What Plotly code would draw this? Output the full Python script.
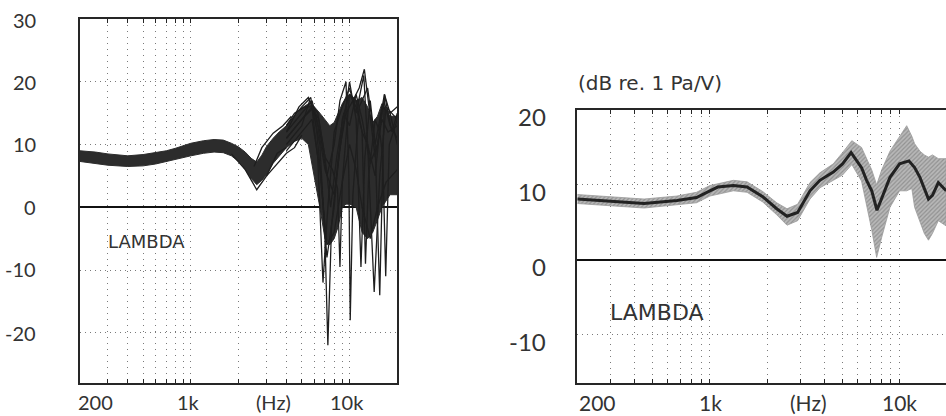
import math
import plotly.graph_objects as go

W, H = 946, 416

# ---------------- data: left panel (individual responses) ----------------
left_band_f = [200, 250, 300, 400, 500, 600, 700, 800, 1000, 1200, 1400, 1600, 1800, 2000,
               2200, 2400, 2600, 2800, 3000, 3300, 3600, 4000, 4500, 5000, 5500, 6000, 6500,
               7000, 7500, 8000, 8500, 9000, 9500, 10000, 11000, 12000, 13000, 14000, 15000,
               16000, 17000, 18000, 20000]
left_band_upper = [9.0, 8.8, 8.5, 8.2, 8.4, 8.7, 9.0, 9.4, 10.2, 10.6, 10.8, 10.7, 10.2, 9.6,
                   8.8, 7.8, 7.2, 8.3, 9.7, 11.0, 12.0, 13.0, 14.5, 15.8, 16.5, 16.0, 15.0,
                   14.0, 13.0, 13.5, 15.0, 16.5, 17.5, 18.0, 17.0, 17.5, 16.0, 13.5, 14.5,
                   16.5, 15.5, 14.5, 14.5]
left_band_lower = [7.3, 7.0, 6.7, 6.5, 6.6, 6.9, 7.2, 7.6, 8.2, 8.6, 8.8, 8.7, 8.2, 7.3,
                   6.0, 4.6, 3.6, 4.3, 5.2, 7.0, 8.2, 9.5, 10.5, 11.0, 10.0, 5.0, 0.0,
                   -5.0, -6.0, -5.0, -3.0, 0.0, 0.5, 0.5, 0.0, -4.0, -5.0, -4.0, -2.0,
                   0.0, 1.0, 2.0, 2.0]

left_curves_f = [
    [4000, 5000, 5800, 6500, 7000, 7300, 7700, 8500, 9500, 10500, 11500, 12400, 13400, 14500, 16000, 17500, 20000],
    [4000, 5000, 5800, 6500, 7200, 8000, 8700, 9500, 9900, 10100, 10500, 11500, 13000, 14500, 16600, 18500, 20000],
    [4000, 5000, 5600, 6300, 7000, 7800, 8400, 8700, 9000, 10000, 11000, 12000, 13000, 14300, 15500, 17000, 20000],
    [4000, 4800, 5500, 6200, 7000, 8000, 9000, 10000, 11000, 11800, 12500, 13500, 14500, 15500, 16600, 18000, 20000],
    [4000, 5000, 6000, 6600, 7200, 8000, 9000, 10000, 11000, 12000, 12600, 13200, 14500, 15500, 16200, 16900, 17800, 20000],
    [4000, 5000, 5800, 6500, 7200, 8000, 9000, 10000, 11000, 12000, 13500, 15000, 17000, 20000],
    [4000, 5000, 5700, 6300, 6800, 7300, 8000, 9000, 10000, 11000, 12300, 13000, 14500, 16000, 18000, 20000],
    [4000, 4500, 5200, 5800, 6400, 7000, 7600, 8300, 9200, 10000, 11000, 12000, 13500, 15000, 16500, 18000, 20000],
    [1800, 2200, 2600, 3000, 3500, 4000],
    [2500, 2800, 3300, 3800, 4300],
    [3000, 3500, 4000, 4500, 5000],
]
left_curves_db = [
    [11, 14, 16, 10, -5, -22, -3, 8, 15, 17, 19, 22, 15, 8, 14, 12, 13],
    [12, 15, 17, 12, 5, 10, 17, 20, 5, -18, 2, 16, 19, 10, 18, 12, 15],
    [10, 13, 17, 15, 8, 6, 3, -9.5, 4, 18, 17, 12, 10, -13.5, 5, 16, 14],
    [12, 16, 17.5, 14, 6, 2, 12, 20, 14, -9.5, 8, 17, 10, -14, 18, 15, 16],
    [11, 14, 16, 5, -8, 0, 14, 18, 16, 12, -9, 5, 14, 12, 8, -11, 10, 14],
    [9, 12, 14, 6, -6, -4, 4, 10, 6, 0, -5, 0, 4, 6],
    [13, 16, 17.5, 8, -12, 0, 12, 16, 19, 15, 21, 10, 5, 16, 15, 10],
    [13, 15, 16, 16, 14, 8, 0, 8, 15, 13, 18, 14, 7, 10, 17, 13, 11],
    [8.5, 6.0, 2.8, 5.0, 8.6, 9.5],
    [6.5, 9.5, 11.8, 13.0, 14.5],
    [5.0, 7.0, 8.6, 9.5, 11.5],
]

# ---------------- data: right panel (mean and spread) ----------------
right_mean_f = [200, 300, 450, 670, 850, 1000, 1100, 1330, 1570, 1900, 2250, 2550, 2900, 3370,
                3800, 4470, 5000, 5550, 6300, 6700, 7130, 7600, 8050, 8900, 10000, 11200, 12000,
                12800, 14200, 14900, 16000, 17600]
right_mean_db = [8.1, 7.8, 7.5, 7.9, 8.3, 9.2, 9.7, 9.9, 9.7, 8.4, 6.8, 5.8, 6.3, 9.2,
                 10.6, 11.7, 12.8, 14.3, 12.3, 10.6, 9.2, 6.6, 8.3, 11.0, 12.8, 13.2, 12.3,
                 11.0, 8.1, 8.6, 10.3, 9.2]
right_band_f = [200, 300, 450, 670, 850, 1000, 1330, 1570, 1900, 2250, 2550, 2900, 3370, 3800,
                4470, 5000, 5600, 6300, 6700, 7130, 7570, 8050, 8900, 10000, 10900, 11600, 12000,
                12800, 13500, 14200, 14900, 16000, 17600]
right_band_upper = [8.7, 8.4, 8.1, 8.5, 9.0, 9.9, 10.6, 10.4, 9.1, 7.6, 6.8, 7.4, 10.3, 11.6,
                    12.8, 14.3, 15.9, 15.0, 13.5, 12.0, 10.0, 12.0, 14.5, 16.5, 17.9, 16.5, 15.5,
                    14.5, 14.0, 13.7, 14.0, 13.5, 13.5]
right_band_lower = [7.5, 7.2, 6.9, 7.3, 7.6, 8.5, 9.2, 9.0, 7.7, 6.0, 4.6, 5.2, 8.1, 9.6,
                    10.6, 11.3, 12.7, 10.5, 7.5, 4.0, 0.3, 3.0, 7.0, 9.2, 9.2, 9.5, 7.0,
                    5.0, 3.5, 2.6, 3.5, 5.2, 4.5]

grid_freqs = [300, 400, 500, 600, 700, 800, 900, 1000, 2000, 3000, 4000, 5000, 6000, 7000,
              8000, 9000, 10000]

left_ytick_vals = [30, 20, 10, 0, -10, -20]
right_ytick_vals = [20, 10, 0, -10]
x_tick_texts = ["200", "1k", "(Hz)", "10k"]

# ---------------- figure ----------------
fig = go.Figure()
INK = "#262626"
FONT = "Lato"
WORD_FONT = "DejaVu Sans"

# left band
fig.add_trace(go.Scatter(
    x=left_band_f + left_band_f[::-1],
    y=left_band_upper + left_band_lower[::-1],
    fill="toself", fillcolor="#2c2c2c", mode="lines",
    line=dict(color="#2c2c2c", width=1), xaxis="x", yaxis="y",
    hoverinfo="skip", showlegend=False))
for fx, dbs in zip(left_curves_f, left_curves_db):
    fig.add_trace(go.Scatter(x=fx, y=dbs, mode="lines",
                             line=dict(color="#1e1e1e", width=1.3),
                             xaxis="x", yaxis="y", showlegend=False))

# right band + mean
fig.add_trace(go.Scatter(
    x=right_band_f + right_band_f[::-1],
    y=right_band_upper + right_band_lower[::-1],
    fill="toself", fillcolor="#a8a8a8",
    fillpattern=dict(shape="/", fgcolor="#6a6a6a", bgcolor="#b8b8b8", size=3, solidity=0.4),
    mode="lines", line=dict(color="#9a9a9a", width=0.8),
    xaxis="x2", yaxis="y2", hoverinfo="skip", showlegend=False))
fig.add_trace(go.Scatter(x=right_mean_f, y=right_mean_db, mode="lines",
                         line=dict(color="#222222", width=3),
                         xaxis="x2", yaxis="y2", showlegend=False))


def px(x):
    return x / W


def py(y):
    return 1 - y / H


common_x = dict(type="log", showgrid=True, gridcolor="#7a7a7a", griddash="1px,5px", gridwidth=1,
                tickvals=grid_freqs, showticklabels=False, ticks="inside", ticklen=4,
                tickcolor=INK, showline=True, linecolor=INK, linewidth=1.5, zeroline=False)
common_y = dict(showgrid=True, gridcolor="#7a7a7a", griddash="1px,4px", gridwidth=1,
                showticklabels=False, zeroline=True, zerolinecolor="#111111",
                zerolinewidth=1.5, showline=True, linecolor=INK, linewidth=1.5)

fig.update_layout(
    width=W, height=H, margin=dict(l=0, r=0, t=0, b=0),
    paper_bgcolor="white", plot_bgcolor="white", showlegend=False,
    xaxis=dict(common_x, domain=[px(80), px(397.3)], range=[math.log10(200), math.log10(20000)],
               mirror="ticks", anchor="y"),
    yaxis=dict(common_y, domain=[py(383), py(19)], range=[-28, 30],
               tickvals=[20, 10, -10, -20], mirror=True, anchor="x"),
    xaxis2=dict(common_x, domain=[px(577.3), 1.0],
                range=[math.log10(200), math.log10(200) + (946 - 577.3) / 189.7],
                mirror="ticks", anchor="y2"),
    yaxis2=dict(common_y, domain=[py(382.7), py(110)], range=[-16.45, 20],
                tickvals=[10, -10], mirror=False, anchor="x2"),
)

ann = []
txt = dict(color="#333333", family=FONT)
wtxt = dict(color="#333333", family=WORD_FONT)
# left y labels
for v, yc in zip(left_ytick_vals, [20, 82, 144, 207, 269, 333]):
    ann.append(dict(x=px(38), y=py(yc), text=str(v), xanchor="right", yanchor="middle",
                    font=dict(txt, size=20)))
# right y labels
for v, yc in zip(right_ytick_vals, [116.7, 191.7, 266.7, 341.7]):
    ann.append(dict(x=px(548), y=py(yc), text=str(v), xanchor="right", yanchor="middle",
                    font=dict(txt, size=24)))
# x labels
for t, xc in zip(x_tick_texts, [95, 188, 273, 347]):
    ann.append(dict(x=px(xc), y=py(402), text=t, xanchor="center", yanchor="middle",
                    font=dict(txt, size=20)))
for t, xc in zip(x_tick_texts, [597, 710, 808, 899]):
    ann.append(dict(x=px(xc), y=py(402), text=t, xanchor="center", yanchor="middle",
                    font=dict(txt, size=21)))
ann.append(dict(x=px(576), y=py(83), text="(dB re. 1 Pa/V)", xanchor="left", yanchor="middle",
                font=dict(wtxt, size=20)))
ann.append(dict(x=px(106), y=py(241), text="LAMBDA", xanchor="left", yanchor="middle",
                font=dict(wtxt, size=18)))
ann.append(dict(x=px(608), y=py(312), text="LAMBDA", xanchor="left", yanchor="middle",
                font=dict(wtxt, size=22)))
for a in ann:
    a.update(xref="paper", yref="paper", showarrow=False)
fig.update_layout(annotations=ann)

fig.write_html("out.html")
